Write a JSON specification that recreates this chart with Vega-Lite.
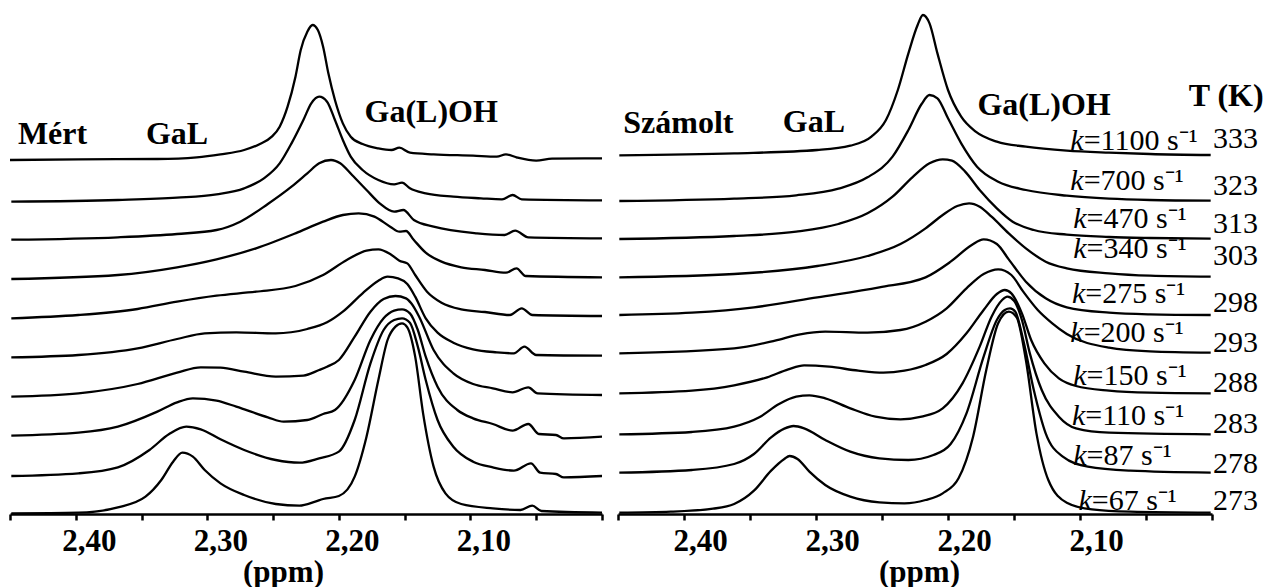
{
"$schema":"https://vega.github.io/schema/vega-lite/v6.json",
"padding":{"left":5,"top":0,"right":0,"bottom":0},
"autosize":{"type":"pad"},
"background":"white",
"spacing":16,
"bounds":"flush",
"config":{"view":{"stroke":null},"font":"Liberation Serif"},
"datasets":{
"spectra":[
{"p":"L","t":333,"x":2.450,"y":1062},{"p":"L","t":333,"x":2.398,"y":1064},{"p":"L","t":333,"x":2.338,"y":1065},{"p":"L","t":333,"x":2.308,"y":1070},{"p":"L","t":333,"x":2.290,"y":1079},{"p":"L","t":333,"x":2.272,"y":1092},{"p":"L","t":333,"x":2.260,"y":1110},{"p":"L","t":333,"x":2.251,"y":1132},{"p":"L","t":333,"x":2.245,"y":1162},{"p":"L","t":333,"x":2.239,"y":1222},{"p":"L","t":333,"x":2.233,"y":1312},{"p":"L","t":333,"x":2.229,"y":1392},{"p":"L","t":333,"x":2.224,"y":1447},{"p":"L","t":333,"x":2.220,"y":1467},{"p":"L","t":333,"x":2.216,"y":1452},{"p":"L","t":333,"x":2.212,"y":1402},{"p":"L","t":333,"x":2.208,"y":1322},{"p":"L","t":333,"x":2.203,"y":1242},{"p":"L","t":333,"x":2.197,"y":1172},{"p":"L","t":333,"x":2.191,"y":1132},{"p":"L","t":333,"x":2.182,"y":1110},{"p":"L","t":333,"x":2.170,"y":1097},{"p":"L","t":333,"x":2.160,"y":1092},{"p":"L","t":333,"x":2.154,"y":1099},{"p":"L","t":333,"x":2.146,"y":1084},{"p":"L","t":333,"x":2.128,"y":1079},{"p":"L","t":333,"x":2.098,"y":1075},{"p":"L","t":333,"x":2.080,"y":1072},{"p":"L","t":333,"x":2.073,"y":1079},{"p":"L","t":333,"x":2.065,"y":1070},{"p":"L","t":333,"x":2.050,"y":1060},{"p":"L","t":333,"x":2.038,"y":1066},{"p":"L","t":333,"x":2.000,"y":1067},
{"p":"L","t":323,"x":2.449,"y":937},{"p":"L","t":323,"x":2.368,"y":942},{"p":"L","t":323,"x":2.323,"y":949},{"p":"L","t":323,"x":2.293,"y":959},{"p":"L","t":323,"x":2.272,"y":977},{"p":"L","t":323,"x":2.257,"y":1007},{"p":"L","t":323,"x":2.245,"y":1052},{"p":"L","t":323,"x":2.236,"y":1112},{"p":"L","t":323,"x":2.227,"y":1182},{"p":"L","t":323,"x":2.221,"y":1232},{"p":"L","t":323,"x":2.215,"y":1252},{"p":"L","t":323,"x":2.209,"y":1237},{"p":"L","t":323,"x":2.203,"y":1182},{"p":"L","t":323,"x":2.197,"y":1122},{"p":"L","t":323,"x":2.191,"y":1072},{"p":"L","t":323,"x":2.182,"y":1032},{"p":"L","t":323,"x":2.170,"y":1002},{"p":"L","t":323,"x":2.158,"y":989},{"p":"L","t":323,"x":2.152,"y":994},{"p":"L","t":323,"x":2.146,"y":977},{"p":"L","t":323,"x":2.134,"y":962},{"p":"L","t":323,"x":2.113,"y":952},{"p":"L","t":323,"x":2.092,"y":947},{"p":"L","t":323,"x":2.076,"y":944},{"p":"L","t":323,"x":2.068,"y":957},{"p":"L","t":323,"x":2.061,"y":944},{"p":"L","t":323,"x":2.000,"y":941},
{"p":"L","t":313,"x":2.449,"y":823},{"p":"L","t":313,"x":2.368,"y":830},{"p":"L","t":313,"x":2.323,"y":840},{"p":"L","t":313,"x":2.293,"y":852},{"p":"L","t":313,"x":2.275,"y":877},{"p":"L","t":313,"x":2.254,"y":930},{"p":"L","t":313,"x":2.236,"y":982},{"p":"L","t":313,"x":2.224,"y":1022},{"p":"L","t":313,"x":2.215,"y":1052},{"p":"L","t":313,"x":2.206,"y":1062},{"p":"L","t":313,"x":2.199,"y":1052},{"p":"L","t":313,"x":2.190,"y":1017},{"p":"L","t":313,"x":2.179,"y":972},{"p":"L","t":313,"x":2.169,"y":932},{"p":"L","t":313,"x":2.158,"y":907},{"p":"L","t":313,"x":2.151,"y":912},{"p":"L","t":313,"x":2.143,"y":882},{"p":"L","t":313,"x":2.128,"y":862},{"p":"L","t":313,"x":2.095,"y":842},{"p":"L","t":313,"x":2.074,"y":837},{"p":"L","t":313,"x":2.066,"y":850},{"p":"L","t":313,"x":2.056,"y":830},{"p":"L","t":313,"x":2.000,"y":827},
{"p":"L","t":303,"x":2.449,"y":705},{"p":"L","t":303,"x":2.368,"y":717},{"p":"L","t":303,"x":2.323,"y":740},{"p":"L","t":303,"x":2.293,"y":764},{"p":"L","t":303,"x":2.263,"y":797},{"p":"L","t":303,"x":2.233,"y":842},{"p":"L","t":303,"x":2.212,"y":877},{"p":"L","t":303,"x":2.197,"y":897},{"p":"L","t":303,"x":2.185,"y":902},{"p":"L","t":303,"x":2.173,"y":892},{"p":"L","t":303,"x":2.161,"y":862},{"p":"L","t":303,"x":2.154,"y":847},{"p":"L","t":303,"x":2.149,"y":849},{"p":"L","t":303,"x":2.143,"y":822},{"p":"L","t":303,"x":2.134,"y":784},{"p":"L","t":303,"x":2.122,"y":757},{"p":"L","t":303,"x":2.107,"y":740},{"p":"L","t":303,"x":2.089,"y":732},{"p":"L","t":303,"x":2.073,"y":724},{"p":"L","t":303,"x":2.065,"y":737},{"p":"L","t":303,"x":2.058,"y":714},{"p":"L","t":303,"x":2.000,"y":710},
{"p":"L","t":298,"x":2.449,"y":587},{"p":"L","t":298,"x":2.398,"y":597},{"p":"L","t":298,"x":2.353,"y":615},{"p":"L","t":298,"x":2.323,"y":637},{"p":"L","t":298,"x":2.293,"y":655},{"p":"L","t":298,"x":2.263,"y":667},{"p":"L","t":298,"x":2.233,"y":684},{"p":"L","t":298,"x":2.212,"y":717},{"p":"L","t":298,"x":2.194,"y":762},{"p":"L","t":298,"x":2.179,"y":790},{"p":"L","t":298,"x":2.170,"y":794},{"p":"L","t":298,"x":2.161,"y":780},{"p":"L","t":298,"x":2.154,"y":760},{"p":"L","t":298,"x":2.148,"y":752},{"p":"L","t":298,"x":2.142,"y":717},{"p":"L","t":298,"x":2.133,"y":667},{"p":"L","t":298,"x":2.122,"y":634},{"p":"L","t":298,"x":2.107,"y":614},{"p":"L","t":298,"x":2.089,"y":606},{"p":"L","t":298,"x":2.070,"y":597},{"p":"L","t":298,"x":2.061,"y":617},{"p":"L","t":298,"x":2.053,"y":597},{"p":"L","t":298,"x":2.000,"y":594},
{"p":"L","t":293,"x":2.449,"y":470},{"p":"L","t":293,"x":2.398,"y":477},{"p":"L","t":293,"x":2.353,"y":497},{"p":"L","t":293,"x":2.323,"y":525},{"p":"L","t":293,"x":2.302,"y":542},{"p":"L","t":293,"x":2.278,"y":545},{"p":"L","t":293,"x":2.248,"y":542},{"p":"L","t":293,"x":2.224,"y":555},{"p":"L","t":293,"x":2.209,"y":575},{"p":"L","t":293,"x":2.197,"y":607},{"p":"L","t":293,"x":2.182,"y":662},{"p":"L","t":293,"x":2.170,"y":700},{"p":"L","t":293,"x":2.163,"y":712},{"p":"L","t":293,"x":2.155,"y":707},{"p":"L","t":293,"x":2.148,"y":690},{"p":"L","t":293,"x":2.142,"y":652},{"p":"L","t":293,"x":2.134,"y":587},{"p":"L","t":293,"x":2.125,"y":544},{"p":"L","t":293,"x":2.113,"y":514},{"p":"L","t":293,"x":2.098,"y":494},{"p":"L","t":293,"x":2.080,"y":485},{"p":"L","t":293,"x":2.067,"y":482},{"p":"L","t":293,"x":2.059,"y":502},{"p":"L","t":293,"x":2.050,"y":477},{"p":"L","t":293,"x":2.000,"y":475},
{"p":"L","t":288,"x":2.449,"y":352},{"p":"L","t":288,"x":2.398,"y":362},{"p":"L","t":288,"x":2.353,"y":390},{"p":"L","t":288,"x":2.323,"y":424},{"p":"L","t":288,"x":2.305,"y":440},{"p":"L","t":288,"x":2.290,"y":439},{"p":"L","t":288,"x":2.272,"y":427},{"p":"L","t":288,"x":2.248,"y":412},{"p":"L","t":288,"x":2.227,"y":415},{"p":"L","t":288,"x":2.215,"y":432},{"p":"L","t":288,"x":2.209,"y":442},{"p":"L","t":288,"x":2.200,"y":462},{"p":"L","t":288,"x":2.188,"y":532},{"p":"L","t":288,"x":2.176,"y":607},{"p":"L","t":288,"x":2.166,"y":645},{"p":"L","t":288,"x":2.157,"y":654},{"p":"L","t":288,"x":2.149,"y":647},{"p":"L","t":288,"x":2.145,"y":632},{"p":"L","t":288,"x":2.139,"y":592},{"p":"L","t":288,"x":2.128,"y":492},{"p":"L","t":288,"x":2.113,"y":422},{"p":"L","t":288,"x":2.098,"y":390},{"p":"L","t":288,"x":2.083,"y":377},{"p":"L","t":288,"x":2.068,"y":365},{"p":"L","t":288,"x":2.056,"y":380},{"p":"L","t":288,"x":2.049,"y":362},{"p":"L","t":288,"x":2.000,"y":357},
{"p":"L","t":283,"x":2.449,"y":235},{"p":"L","t":283,"x":2.398,"y":244},{"p":"L","t":283,"x":2.368,"y":262},{"p":"L","t":283,"x":2.338,"y":307},{"p":"L","t":283,"x":2.323,"y":335},{"p":"L","t":283,"x":2.311,"y":347},{"p":"L","t":283,"x":2.293,"y":340},{"p":"L","t":283,"x":2.278,"y":322},{"p":"L","t":283,"x":2.254,"y":290},{"p":"L","t":283,"x":2.242,"y":277},{"p":"L","t":283,"x":2.224,"y":282},{"p":"L","t":283,"x":2.212,"y":300},{"p":"L","t":283,"x":2.203,"y":312},{"p":"L","t":283,"x":2.188,"y":402},{"p":"L","t":283,"x":2.176,"y":522},{"p":"L","t":283,"x":2.166,"y":587},{"p":"L","t":283,"x":2.158,"y":610},{"p":"L","t":283,"x":2.152,"y":614},{"p":"L","t":283,"x":2.146,"y":602},{"p":"L","t":283,"x":2.140,"y":552},{"p":"L","t":283,"x":2.134,"y":472},{"p":"L","t":283,"x":2.125,"y":382},{"p":"L","t":283,"x":2.110,"y":312},{"p":"L","t":283,"x":2.098,"y":287},{"p":"L","t":283,"x":2.083,"y":270},{"p":"L","t":283,"x":2.068,"y":250},{"p":"L","t":283,"x":2.056,"y":270},{"p":"L","t":283,"x":2.048,"y":240},{"p":"L","t":283,"x":2.035,"y":237},{"p":"L","t":283,"x":2.029,"y":227},{"p":"L","t":283,"x":2.000,"y":232},
{"p":"L","t":278,"x":2.449,"y":114},{"p":"L","t":278,"x":2.398,"y":122},{"p":"L","t":278,"x":2.368,"y":140},{"p":"L","t":278,"x":2.344,"y":192},{"p":"L","t":278,"x":2.329,"y":240},{"p":"L","t":278,"x":2.316,"y":262},{"p":"L","t":278,"x":2.305,"y":254},{"p":"L","t":278,"x":2.290,"y":224},{"p":"L","t":278,"x":2.272,"y":192},{"p":"L","t":278,"x":2.248,"y":162},{"p":"L","t":278,"x":2.230,"y":154},{"p":"L","t":278,"x":2.215,"y":167},{"p":"L","t":278,"x":2.200,"y":187},{"p":"L","t":278,"x":2.188,"y":282},{"p":"L","t":278,"x":2.176,"y":452},{"p":"L","t":278,"x":2.166,"y":552},{"p":"L","t":278,"x":2.158,"y":582},{"p":"L","t":278,"x":2.152,"y":587},{"p":"L","t":278,"x":2.146,"y":574},{"p":"L","t":278,"x":2.140,"y":502},{"p":"L","t":278,"x":2.134,"y":402},{"p":"L","t":278,"x":2.125,"y":282},{"p":"L","t":278,"x":2.113,"y":202},{"p":"L","t":278,"x":2.098,"y":157},{"p":"L","t":278,"x":2.083,"y":140},{"p":"L","t":278,"x":2.067,"y":130},{"p":"L","t":278,"x":2.054,"y":152},{"p":"L","t":278,"x":2.047,"y":124},{"p":"L","t":278,"x":2.035,"y":120},{"p":"L","t":278,"x":2.029,"y":110},{"p":"L","t":278,"x":2.000,"y":114},
{"p":"L","t":273,"x":2.449,"y":2},{"p":"L","t":273,"x":2.398,"y":4},{"p":"L","t":273,"x":2.368,"y":20},{"p":"L","t":273,"x":2.347,"y":52},{"p":"L","t":273,"x":2.335,"y":102},{"p":"L","t":273,"x":2.326,"y":157},{"p":"L","t":273,"x":2.319,"y":184},{"p":"L","t":273,"x":2.311,"y":172},{"p":"L","t":273,"x":2.302,"y":132},{"p":"L","t":273,"x":2.290,"y":92},{"p":"L","t":273,"x":2.272,"y":57},{"p":"L","t":273,"x":2.248,"y":30},{"p":"L","t":273,"x":2.230,"y":25},{"p":"L","t":273,"x":2.218,"y":37},{"p":"L","t":273,"x":2.212,"y":45},{"p":"L","t":273,"x":2.200,"y":54},{"p":"L","t":273,"x":2.188,"y":112},{"p":"L","t":273,"x":2.179,"y":232},{"p":"L","t":273,"x":2.170,"y":402},{"p":"L","t":273,"x":2.163,"y":522},{"p":"L","t":273,"x":2.157,"y":562},{"p":"L","t":273,"x":2.152,"y":572},{"p":"L","t":273,"x":2.148,"y":560},{"p":"L","t":273,"x":2.142,"y":472},{"p":"L","t":273,"x":2.136,"y":302},{"p":"L","t":273,"x":2.128,"y":142},{"p":"L","t":273,"x":2.119,"y":62},{"p":"L","t":273,"x":2.107,"y":30},{"p":"L","t":273,"x":2.083,"y":17},{"p":"L","t":273,"x":2.062,"y":12},{"p":"L","t":273,"x":2.053,"y":25},{"p":"L","t":273,"x":2.046,"y":9},{"p":"L","t":273,"x":2.000,"y":4},
{"p":"R","t":333,"x":2.449,"y":1076},{"p":"R","t":333,"x":2.362,"y":1082},{"p":"R","t":333,"x":2.299,"y":1092},{"p":"R","t":333,"x":2.274,"y":1105},{"p":"R","t":333,"x":2.258,"y":1132},{"p":"R","t":333,"x":2.247,"y":1182},{"p":"R","t":333,"x":2.238,"y":1272},{"p":"R","t":333,"x":2.230,"y":1382},{"p":"R","t":333,"x":2.223,"y":1467},{"p":"R","t":333,"x":2.219,"y":1497},{"p":"R","t":333,"x":2.214,"y":1472},{"p":"R","t":333,"x":2.208,"y":1382},{"p":"R","t":333,"x":2.200,"y":1272},{"p":"R","t":333,"x":2.190,"y":1192},{"p":"R","t":333,"x":2.179,"y":1147},{"p":"R","t":333,"x":2.163,"y":1117},{"p":"R","t":333,"x":2.141,"y":1102},{"p":"R","t":333,"x":2.110,"y":1090},{"p":"R","t":333,"x":2.078,"y":1084},{"p":"R","t":333,"x":2.047,"y":1080},{"p":"R","t":333,"x":2.001,"y":1077},
{"p":"R","t":323,"x":2.449,"y":939},{"p":"R","t":323,"x":2.362,"y":946},{"p":"R","t":323,"x":2.315,"y":956},{"p":"R","t":323,"x":2.283,"y":976},{"p":"R","t":323,"x":2.261,"y":1010},{"p":"R","t":323,"x":2.242,"y":1072},{"p":"R","t":323,"x":2.230,"y":1152},{"p":"R","t":323,"x":2.220,"y":1230},{"p":"R","t":323,"x":2.214,"y":1257},{"p":"R","t":323,"x":2.208,"y":1247},{"p":"R","t":323,"x":2.200,"y":1187},{"p":"R","t":323,"x":2.190,"y":1112},{"p":"R","t":323,"x":2.178,"y":1042},{"p":"R","t":323,"x":2.162,"y":997},{"p":"R","t":323,"x":2.141,"y":972},{"p":"R","t":323,"x":2.110,"y":955},{"p":"R","t":323,"x":2.078,"y":946},{"p":"R","t":323,"x":2.047,"y":942},{"p":"R","t":323,"x":2.001,"y":940},
{"p":"R","t":313,"x":2.449,"y":825},{"p":"R","t":313,"x":2.362,"y":834},{"p":"R","t":313,"x":2.315,"y":847},{"p":"R","t":313,"x":2.283,"y":870},{"p":"R","t":313,"x":2.261,"y":902},{"p":"R","t":313,"x":2.242,"y":952},{"p":"R","t":313,"x":2.227,"y":1010},{"p":"R","t":313,"x":2.214,"y":1052},{"p":"R","t":313,"x":2.204,"y":1064},{"p":"R","t":313,"x":2.197,"y":1060},{"p":"R","t":313,"x":2.187,"y":1027},{"p":"R","t":313,"x":2.176,"y":972},{"p":"R","t":313,"x":2.163,"y":917},{"p":"R","t":313,"x":2.151,"y":877},{"p":"R","t":313,"x":2.135,"y":852},{"p":"R","t":313,"x":2.110,"y":838},{"p":"R","t":313,"x":2.078,"y":831},{"p":"R","t":313,"x":2.047,"y":828},{"p":"R","t":313,"x":2.001,"y":826},
{"p":"R","t":303,"x":2.449,"y":710},{"p":"R","t":303,"x":2.362,"y":720},{"p":"R","t":303,"x":2.299,"y":744},{"p":"R","t":303,"x":2.261,"y":774},{"p":"R","t":303,"x":2.236,"y":810},{"p":"R","t":303,"x":2.217,"y":857},{"p":"R","t":303,"x":2.204,"y":897},{"p":"R","t":303,"x":2.193,"y":924},{"p":"R","t":303,"x":2.184,"y":932},{"p":"R","t":303,"x":2.176,"y":922},{"p":"R","t":303,"x":2.167,"y":892},{"p":"R","t":303,"x":2.154,"y":842},{"p":"R","t":303,"x":2.141,"y":797},{"p":"R","t":303,"x":2.126,"y":757},{"p":"R","t":303,"x":2.110,"y":737},{"p":"R","t":303,"x":2.078,"y":722},{"p":"R","t":303,"x":2.047,"y":715},{"p":"R","t":303,"x":2.001,"y":712},
{"p":"R","t":298,"x":2.449,"y":597},{"p":"R","t":298,"x":2.394,"y":604},{"p":"R","t":298,"x":2.347,"y":620},{"p":"R","t":298,"x":2.299,"y":650},{"p":"R","t":298,"x":2.252,"y":680},{"p":"R","t":298,"x":2.217,"y":710},{"p":"R","t":298,"x":2.198,"y":757},{"p":"R","t":298,"x":2.182,"y":807},{"p":"R","t":298,"x":2.173,"y":824},{"p":"R","t":298,"x":2.163,"y":810},{"p":"R","t":298,"x":2.154,"y":764},{"p":"R","t":298,"x":2.141,"y":697},{"p":"R","t":298,"x":2.126,"y":647},{"p":"R","t":298,"x":2.110,"y":620},{"p":"R","t":298,"x":2.078,"y":604},{"p":"R","t":298,"x":2.047,"y":599},{"p":"R","t":298,"x":2.001,"y":597},
{"p":"R","t":293,"x":2.449,"y":482},{"p":"R","t":293,"x":2.362,"y":497},{"p":"R","t":293,"x":2.331,"y":520},{"p":"R","t":293,"x":2.312,"y":539},{"p":"R","t":293,"x":2.293,"y":547},{"p":"R","t":293,"x":2.261,"y":544},{"p":"R","t":293,"x":2.236,"y":552},{"p":"R","t":293,"x":2.217,"y":577},{"p":"R","t":293,"x":2.201,"y":617},{"p":"R","t":293,"x":2.186,"y":677},{"p":"R","t":293,"x":2.173,"y":720},{"p":"R","t":293,"x":2.162,"y":734},{"p":"R","t":293,"x":2.152,"y":717},{"p":"R","t":293,"x":2.143,"y":667},{"p":"R","t":293,"x":2.132,"y":612},{"p":"R","t":293,"x":2.121,"y":572},{"p":"R","t":293,"x":2.110,"y":540},{"p":"R","t":293,"x":2.078,"y":499},{"p":"R","t":293,"x":2.047,"y":488},{"p":"R","t":293,"x":2.001,"y":484},
{"p":"R","t":288,"x":2.449,"y":362},{"p":"R","t":288,"x":2.394,"y":370},{"p":"R","t":288,"x":2.362,"y":386},{"p":"R","t":288,"x":2.337,"y":410},{"p":"R","t":288,"x":2.321,"y":434},{"p":"R","t":288,"x":2.309,"y":446},{"p":"R","t":288,"x":2.290,"y":442},{"p":"R","t":288,"x":2.268,"y":430},{"p":"R","t":288,"x":2.249,"y":424},{"p":"R","t":288,"x":2.233,"y":430},{"p":"R","t":288,"x":2.217,"y":447},{"p":"R","t":288,"x":2.201,"y":480},{"p":"R","t":288,"x":2.186,"y":542},{"p":"R","t":288,"x":2.173,"y":612},{"p":"R","t":288,"x":2.163,"y":660},{"p":"R","t":288,"x":2.157,"y":672},{"p":"R","t":288,"x":2.152,"y":662},{"p":"R","t":288,"x":2.144,"y":602},{"p":"R","t":288,"x":2.137,"y":522},{"p":"R","t":288,"x":2.127,"y":452},{"p":"R","t":288,"x":2.116,"y":407},{"p":"R","t":288,"x":2.103,"y":384},{"p":"R","t":288,"x":2.078,"y":370},{"p":"R","t":288,"x":2.047,"y":364},{"p":"R","t":288,"x":2.001,"y":362},
{"p":"R","t":283,"x":2.449,"y":239},{"p":"R","t":283,"x":2.394,"y":246},{"p":"R","t":283,"x":2.362,"y":262},{"p":"R","t":283,"x":2.343,"y":290},{"p":"R","t":283,"x":2.328,"y":330},{"p":"R","t":283,"x":2.315,"y":352},{"p":"R","t":283,"x":2.305,"y":356},{"p":"R","t":283,"x":2.293,"y":347},{"p":"R","t":283,"x":2.274,"y":317},{"p":"R","t":283,"x":2.255,"y":292},{"p":"R","t":283,"x":2.236,"y":284},{"p":"R","t":283,"x":2.220,"y":292},{"p":"R","t":283,"x":2.204,"y":317},{"p":"R","t":283,"x":2.189,"y":392},{"p":"R","t":283,"x":2.176,"y":502},{"p":"R","t":283,"x":2.167,"y":592},{"p":"R","t":283,"x":2.159,"y":642},{"p":"R","t":283,"x":2.155,"y":652},{"p":"R","t":283,"x":2.150,"y":640},{"p":"R","t":283,"x":2.144,"y":582},{"p":"R","t":283,"x":2.138,"y":482},{"p":"R","t":283,"x":2.129,"y":372},{"p":"R","t":283,"x":2.116,"y":292},{"p":"R","t":283,"x":2.103,"y":257},{"p":"R","t":283,"x":2.078,"y":244},{"p":"R","t":283,"x":2.001,"y":239},
{"p":"R","t":278,"x":2.449,"y":124},{"p":"R","t":278,"x":2.394,"y":132},{"p":"R","t":278,"x":2.362,"y":150},{"p":"R","t":278,"x":2.347,"y":180},{"p":"R","t":278,"x":2.334,"y":230},{"p":"R","t":278,"x":2.324,"y":256},{"p":"R","t":278,"x":2.317,"y":264},{"p":"R","t":278,"x":2.309,"y":257},{"p":"R","t":278,"x":2.293,"y":222},{"p":"R","t":278,"x":2.274,"y":187},{"p":"R","t":278,"x":2.252,"y":167},{"p":"R","t":278,"x":2.230,"y":162},{"p":"R","t":278,"x":2.211,"y":177},{"p":"R","t":278,"x":2.198,"y":210},{"p":"R","t":278,"x":2.186,"y":302},{"p":"R","t":278,"x":2.173,"y":472},{"p":"R","t":278,"x":2.163,"y":582},{"p":"R","t":278,"x":2.157,"y":612},{"p":"R","t":278,"x":2.153,"y":617},{"p":"R","t":278,"x":2.149,"y":607},{"p":"R","t":278,"x":2.143,"y":522},{"p":"R","t":278,"x":2.135,"y":372},{"p":"R","t":278,"x":2.126,"y":242},{"p":"R","t":278,"x":2.113,"y":172},{"p":"R","t":278,"x":2.094,"y":142},{"p":"R","t":278,"x":2.062,"y":130},{"p":"R","t":278,"x":2.001,"y":124},
{"p":"R","t":273,"x":2.449,"y":4},{"p":"R","t":273,"x":2.410,"y":7},{"p":"R","t":273,"x":2.378,"y":16},{"p":"R","t":273,"x":2.362,"y":30},{"p":"R","t":273,"x":2.347,"y":70},{"p":"R","t":273,"x":2.334,"y":130},{"p":"R","t":273,"x":2.324,"y":165},{"p":"R","t":273,"x":2.320,"y":174},{"p":"R","t":273,"x":2.314,"y":165},{"p":"R","t":273,"x":2.305,"y":127},{"p":"R","t":273,"x":2.293,"y":87},{"p":"R","t":273,"x":2.274,"y":52},{"p":"R","t":273,"x":2.252,"y":35},{"p":"R","t":273,"x":2.233,"y":32},{"p":"R","t":273,"x":2.217,"y":42},{"p":"R","t":273,"x":2.204,"y":62},{"p":"R","t":273,"x":2.192,"y":107},{"p":"R","t":273,"x":2.181,"y":232},{"p":"R","t":273,"x":2.171,"y":432},{"p":"R","t":273,"x":2.162,"y":572},{"p":"R","t":273,"x":2.154,"y":607},{"p":"R","t":273,"x":2.148,"y":590},{"p":"R","t":273,"x":2.141,"y":462},{"p":"R","t":273,"x":2.133,"y":242},{"p":"R","t":273,"x":2.124,"y":102},{"p":"R","t":273,"x":2.110,"y":34},{"p":"R","t":273,"x":2.091,"y":14},{"p":"R","t":273,"x":2.062,"y":7},{"p":"R","t":273,"x":2.001,"y":4}
],
"labels":[
{"p":"L","txt":"Mért","x":2.444,"y":1110},
{"p":"L","txt":"GaL","x":2.3467,"y":1110},
{"p":"L","txt":"Ga(L)OH","x":2.1805,"y":1176},
{"p":"R","txt":"Számolt","x":2.446,"y":1143},
{"p":"R","txt":"GaL","x":2.3252,"y":1147},
{"p":"R","txt":"Ga(L)OH","x":2.1777,"y":1197},
{"p":"R","txt":"T (K)","x":2.0177,"y":1224}
],
"klab":[
{"kt":"=1100 s⁻¹","x":2.0972,"y":1092},
{"kt":"=700 s⁻¹","x":2.0972,"y":972},
{"kt":"=470 s⁻¹","x":2.0950,"y":858},
{"kt":"=340 s⁻¹","x":2.0950,"y":768},
{"kt":"=275 s⁻¹","x":2.0960,"y":633},
{"kt":"=200 s⁻¹","x":2.0972,"y":517},
{"kt":"=150 s⁻¹","x":2.0950,"y":387},
{"kt":"=110 s⁻¹","x":2.0960,"y":267},
{"kt":"=87 s⁻¹","x":2.0950,"y":147},
{"kt":"=67 s⁻¹","x":2.0911,"y":12}
],
"tlab":[
{"T":"333","x":2.0,"y":1098},{"T":"323","x":2.0,"y":957},{"T":"313","x":2.0,"y":843},{"T":"303","x":2.0,"y":747},{"T":"298","x":2.0,"y":607},{"T":"293","x":2.0,"y":487},{"T":"288","x":2.0,"y":367},{"T":"283","x":2.0,"y":243},{"T":"278","x":2.0,"y":123},{"T":"273","x":2.0,"y":12}
]
},
"hconcat":[
{
"width":592,"height":514,
"encoding":{
"x":{"field":"x","type":"quantitative","scale":{"domain":[2.0,2.45],"reverse":true,"nice":false,"zero":false},
"axis":{"values":[2.45,2.4,2.35,2.3,2.25,2.2,2.15,2.1,2.05,2.0],"labelExpr":"round(datum.value*100) % 10 == 0 && datum.value > 2.01 ? replace(format(datum.value, '.2f'), '.', ',') : ''","title":"(ppm)","grid":false,"domainColor":"black","domainWidth":2.5,"tickColor":"black","tickWidth":2.5,"tickSize":6,"labelFont":"Liberation Serif","labelFontWeight":"bold","labelFontSize":31,"labelColor":"black","labelPadding":30,"labelBaseline":"alphabetic","labelOffset":13,"labelFlush":false,"labelOverlap":false,"titleFont":"Liberation Serif","titleFontWeight":"bold","titleFontSize":31,"titleColor":"black","titleX":273,"titleY":67,"titleBaseline":"alphabetic","titleAlign":"center"}},
"y":{"field":"y","type":"quantitative","scale":{"domain":[0,1542],"nice":false,"zero":false},"axis":null}
},
"layer":[
{"data":{"name":"spectra"},"transform":[{"filter":"datum.p == 'L'"}],
"mark":{"type":"line","color":"black","strokeWidth":2.3,"interpolate":"monotone"},
"encoding":{"detail":{"field":"t","type":"nominal"}}},
{"data":{"name":"labels"},"transform":[{"filter":"datum.p == 'L'"}],
"mark":{"type":"text","font":"Liberation Serif","fontWeight":"bold","fontSize":32,"align":"left","baseline":"alphabetic","color":"black"},
"encoding":{"text":{"field":"txt"}}}
]
},
{
"width":594,"height":514,
"encoding":{
"x":{"field":"x","type":"quantitative","scale":{"domain":[2.0,2.45],"reverse":true,"nice":false,"zero":false},
"axis":{"values":[2.45,2.4,2.35,2.3,2.25,2.2,2.15,2.1,2.05,2.0],"labelExpr":"round(datum.value*100) % 10 == 0 && datum.value > 2.01 ? replace(format(datum.value, '.2f'), '.', ',') : ''","title":"(ppm)","grid":false,"domainColor":"black","domainWidth":2.5,"tickColor":"black","tickWidth":2.5,"tickSize":6,"labelFont":"Liberation Serif","labelFontWeight":"bold","labelFontSize":31,"labelColor":"black","labelPadding":30,"labelBaseline":"alphabetic","labelOffset":16,"labelFlush":false,"labelOverlap":false,"titleFont":"Liberation Serif","titleFontWeight":"bold","titleFontSize":31,"titleColor":"black","titleX":301,"titleY":67,"titleBaseline":"alphabetic","titleAlign":"center"}},
"y":{"field":"y","type":"quantitative","scale":{"domain":[0,1542],"nice":false,"zero":false},"axis":null}
},
"layer":[
{"data":{"name":"spectra"},"transform":[{"filter":"datum.p == 'R'"}],
"mark":{"type":"line","color":"black","strokeWidth":2.3,"interpolate":"monotone"},
"encoding":{"detail":{"field":"t","type":"nominal"}}},
{"data":{"name":"labels"},"transform":[{"filter":"datum.p == 'R'"}],
"mark":{"type":"text","font":"Liberation Serif","fontWeight":"bold","fontSize":32,"align":"left","baseline":"alphabetic","color":"black"},
"encoding":{"text":{"field":"txt"}}},
{"data":{"name":"klab"},
"mark":{"type":"text","font":"Liberation Serif","fontStyle":"italic","fontSize":30,"align":"right","baseline":"alphabetic","color":"black"},
"encoding":{"text":{"value":"k"}}},
{"data":{"name":"klab"},
"mark":{"type":"text","font":"Liberation Serif","fontSize":30,"align":"left","baseline":"alphabetic","color":"black"},
"encoding":{"text":{"field":"kt"}}},
{"data":{"name":"tlab"},
"mark":{"type":"text","font":"Liberation Serif","fontSize":30,"align":"left","baseline":"alphabetic","color":"black","dx":1},
"encoding":{"text":{"field":"T"}}}
]
}
]
}
